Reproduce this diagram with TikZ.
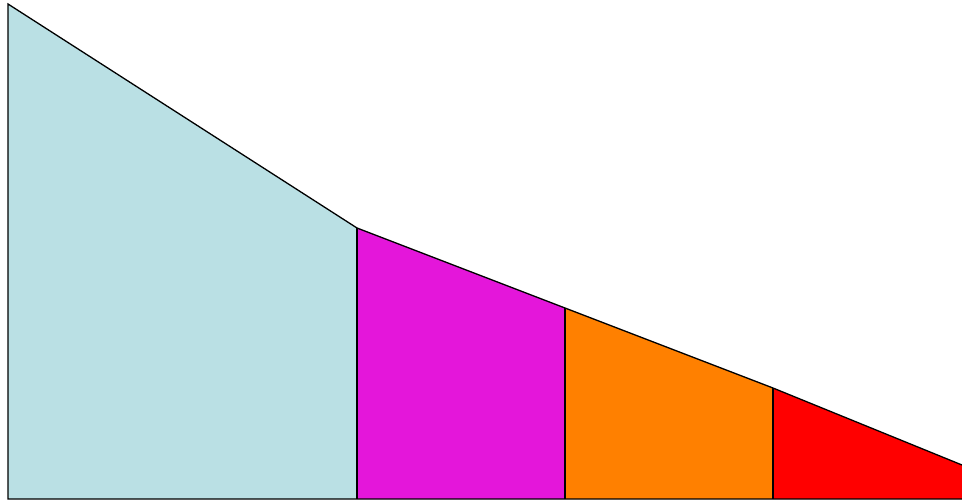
\documentclass[tikz,border=0pt]{standalone}
\definecolor{cblue}{RGB}{186,224,228}
\definecolor{cmag}{RGB}{228,22,218}
\definecolor{corange}{RGB}{255,128,0}
\definecolor{cred}{RGB}{255,0,0}
\begin{document}
\begin{tikzpicture}[x=1pt,y=-1pt,seg/.style={draw=black,line width=1.3pt,line join=miter}]
\useasboundingbox (0,0) rectangle (962,503);
\coordinate (t0) at (8,4);
\coordinate (b0) at (8,499);
\coordinate (t1) at (357,228);
\coordinate (b1) at (357,499);
\coordinate (t2) at (565,308);
\coordinate (b2) at (565,499);
\coordinate (t3) at (773,388);
\coordinate (b3) at (773,499);
\coordinate (t4) at (962,465);
\coordinate (b4) at (962,499);
\fill[cblue] (b0) -- (t0) -- (t1) -- (b1) -- cycle;
\fill[cmag] (b1) -- (t1) -- (t2) -- (b2) -- cycle;
\fill[corange] (b2) -- (t2) -- (t3) -- (b3) -- cycle;
\fill[cred] (b3) -- (t3) -- (t4) -- (b4) -- cycle;
\draw[seg] (b4) -- (b0) -- (t0) -- (t1) -- (t2) -- (t3) -- (t4);
\draw[seg] (t1) -- (b1);
\draw[seg] (t2) -- (b2);
\draw[seg] (t3) -- (b3);
\end{tikzpicture}
\end{document}
